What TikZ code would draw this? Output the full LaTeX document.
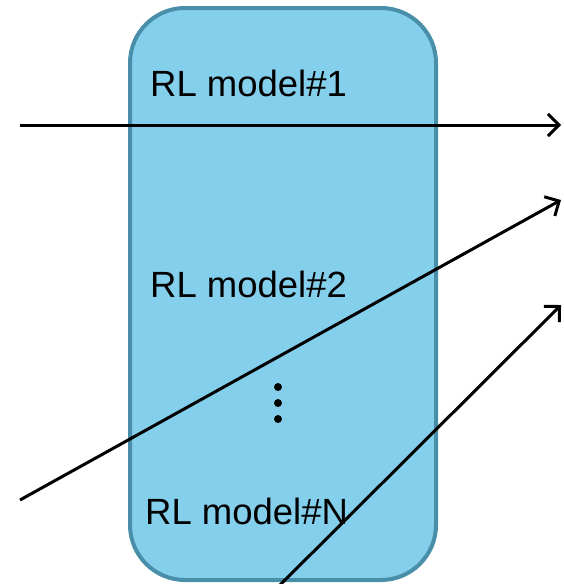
\documentclass[tikz,border=0pt]{standalone}
\usepackage{fontspec}
\setmainfont{Liberation Sans}
\usetikzlibrary{arrows.meta}
\definecolor{boxfill}{RGB}{132,207,236}
\definecolor{boxedge}{RGB}{74,143,170}
\begin{document}
\begin{tikzpicture}[x=1pt,y=-1pt,
  modelbox/.style={draw=boxedge,fill=boxfill,line width=4pt,rounded corners=55pt,
    minimum width=306pt,minimum height=572pt,inner sep=0pt},
  label/.style={font=\fontsize{36.5}{40}\selectfont,anchor=base west,inner sep=0pt},
  flow/.style={line width=3pt,-{Straight Barb[length=11pt,width=22pt,line width=3pt]}},
  dot/.style={circle,fill=black,inner sep=0pt,minimum size=8pt}]
  \useasboundingbox (0,0) rectangle (563,584);
  % the ensemble container
  \node[modelbox] (box) at (283,294) {};
  % member labels
  \node[label] (m1) at (150,96) {RL model\#1};
  \node[label] (m2) at (150,297) {RL model\#2};
  \node[label] (mN) at (145,524) {RL model\#N};
  % vertical ellipsis
  \node[dot] (d1) at (278,387) {};
  \node[dot] (d2) at (278,403) {};
  \node[dot] (d3) at (278,419) {};
  % input and output ends of the three flows
  \coordinate (in1) at (20,125);
  \coordinate (out1) at (561,125);
  \coordinate (in2) at (20,500);
  \coordinate (out2) at (561,200);
  \coordinate (in3) at (279,586);
  \coordinate (out3) at (561,305);
  \draw[flow] (in1) -- (out1);
  \draw[flow] (in2) -- (out2);
  \draw[flow] (in3) -- (out3);
\end{tikzpicture}
\end{document}
